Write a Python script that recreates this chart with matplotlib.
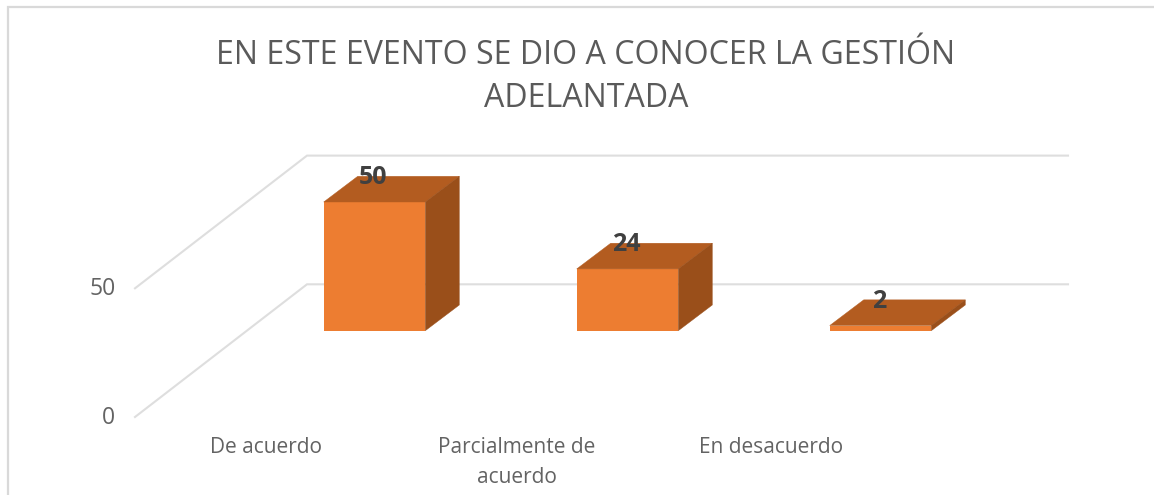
import matplotlib
matplotlib.use("Agg")
import matplotlib.pyplot as plt
from matplotlib.patches import Polygon
from matplotlib.lines import Line2D

plt.rcParams['font.family'] = ['Open Sans', 'DejaVu Sans']

title = "EN ESTE EVENTO SE DIO A CONOCER LA GESTIÓN\nADELANTADA"
categories = ["De acuerdo", "Parcialmente de\nacuerdo", "En desacuerdo"]
values = [50, 24, 2]
y_ticks = [0, 50]

W, H = 1154, 495
PX_CAT, PX_VAL = 253.0, 2.574     # pixels per category / per value unit
X0_PX, Y0_PX = 374.5, 330.7       # pixel position of category 0, value 0
bar_w = 101.6 / PX_CAT
dx, dy = 34 / PX_CAT, 25.7 / PX_VAL   # depth of the oblique projection

fig = plt.figure(figsize=(W / 100, H / 100), dpi=100, facecolor="white")
ax = fig.add_axes([0, 0, 1, 1])
ax.set_xlim(-X0_PX / PX_CAT, (W - X0_PX) / PX_CAT)
ax.set_ylim((Y0_PX - H) / PX_VAL, Y0_PX / PX_VAL)
ax.axis("off")

def px_x(p): return (p - X0_PX) / PX_CAT
def px_h(p): return p / PX_VAL

# walls / gridlines
floor_front = -86.3 / PX_VAL
floor_back = 46.4 / PX_VAL
for v in y_ticks:
    ax.plot([px_x(135), px_x(307), px_x(1068)],
            [floor_front + v, floor_back + v, floor_back + v],
            color="#DEDEDE", lw=1.5, solid_joinstyle="miter", zorder=1)
    ax.text(px_x(115.5), floor_front + v - px_h(1), str(v), ha="right", va="center",
            fontsize=16.5, color="#636363", zorder=5)

# bars
FRONT, TOP, SIDE = "#ED7D31", "#B35C20", "#9A4F1A"
label_shift = [108.5, 110.5, 109.5]
for i, v in enumerate(values):
    l, r = i - bar_w / 2, i + bar_w / 2
    ax.bar(i, v, width=bar_w, color=FRONT, linewidth=0, zorder=3)
    ax.add_patch(Polygon([(l, v), (r, v), (r + dx, v + dy), (l + dx, v + dy)],
                         closed=True, fc=TOP, ec=TOP, lw=0.3, zorder=3))
    ax.add_patch(Polygon([(r, 0), (r + dx, dy), (r + dx, v + dy), (r, v)],
                         closed=True, fc=SIDE, ec=SIDE, lw=0.3, zorder=3))
    ax.text(i - 1 / PX_CAT, v + px_h(24.5), str(v), ha="center", va="center", fontsize=18,
            fontweight="bold", color="#404040", zorder=6)
    ax.text(i - label_shift[i] / PX_CAT, px_h(-106.5), categories[i], ha="center", va="top",
            fontsize=15, color="#636363", linespacing=1.58, zorder=5)

# title
ax.text(px_x(586), px_h(330.7 - 77), title, ha="center", va="center", fontsize=23.1,
        color="#5A5A5A", linespacing=1.38, zorder=5)

# chart frame
fig.add_artist(Line2D([7.5 / W, 7.5 / W, 1], [0, 1 - 6.5 / H, 1 - 6.5 / H],
                      color="#D9D9D9", lw=1.6, solid_joinstyle="miter"))

fig.savefig("out.png", dpi=100)
